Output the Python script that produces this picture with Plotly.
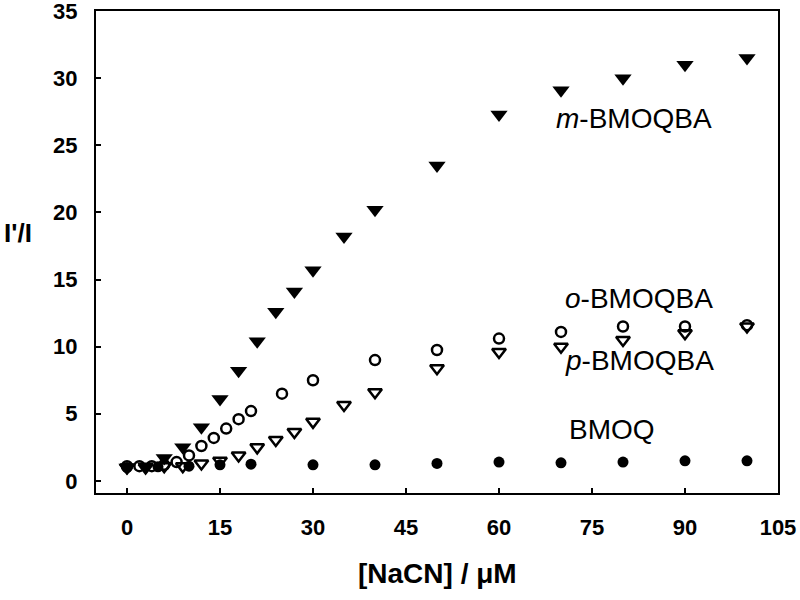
import plotly.graph_objects as go

# Data
m_x = [0, 3, 6, 9, 12, 15, 18, 21, 24, 27, 30, 35, 40, 50, 60, 70, 80, 90, 100]
m_y = [1.0, 1.1, 1.7, 2.5, 4.0, 6.1, 8.2, 10.4, 12.6, 14.1, 15.7, 18.2, 20.2, 23.5, 27.3, 29.1, 30.0, 31.0, 31.5]

o_x = [0, 2, 4, 6, 8, 10, 12, 14, 16, 18, 20, 25, 30, 40, 50, 60, 70, 80, 90, 100]
o_y = [1.1, 1.1, 1.1, 1.2, 1.4, 1.9, 2.6, 3.2, 3.9, 4.6, 5.2, 6.5, 7.5, 9.0, 9.75, 10.6, 11.1, 11.5, 11.5, 11.6]

p_x = [0, 3, 6, 9, 12, 15, 18, 21, 24, 27, 30, 35, 40, 50, 60, 70, 80, 90, 100]
p_y = [1.0, 1.0, 1.1, 1.1, 1.3, 1.5, 1.9, 2.5, 3.05, 3.65, 4.4, 5.65, 6.6, 8.4, 9.6, 10.0, 10.5, 11.0, 11.5]

b_x = [0, 5, 10, 15, 20, 30, 40, 50, 60, 70, 80, 90, 100]
b_y = [1.0, 1.05, 1.1, 1.2, 1.25, 1.2, 1.2, 1.3, 1.4, 1.35, 1.4, 1.5, 1.5]

x_ticks = [0, 15, 30, 45, 60, 75, 90, 105]
y_ticks = [0, 5, 10, 15, 20, 25, 30, 35]

FONT = "Liberation Sans, Arial, sans-serif"

fig = go.Figure()
fig.add_trace(go.Scatter(x=b_x, y=b_y, mode="markers", name="BMOQ",
                         marker=dict(symbol="circle", size=11, color="black")))
fig.add_trace(go.Scatter(x=p_x, y=p_y, mode="markers", name="p-BMOQBA",
                         marker=dict(symbol="triangle-down-open", size=12, color="black",
                                     line=dict(width=2.5, color="black"))))
fig.add_trace(go.Scatter(x=o_x, y=o_y, mode="markers", name="o-BMOQBA",
                         marker=dict(symbol="circle-open", size=10, color="black",
                                     line=dict(width=2.5, color="black"))))
fig.add_trace(go.Scatter(x=m_x, y=m_y, mode="markers", name="m-BMOQBA",
                         marker=dict(symbol="triangle-down", size=15, color="black")))

ann_font = dict(family=FONT, size=28, color="black")
fig.add_annotation(x=81.7, y=27.0, xref="x", yref="y", text="<i>m</i>-BMOQBA",
                   showarrow=False, font=ann_font)
fig.add_annotation(x=82.5, y=13.6, xref="x", yref="y", text="<i>o</i>-BMOQBA",
                   showarrow=False, font=ann_font)
fig.add_annotation(x=82.7, y=9.0, xref="x", yref="y", text="<i>p</i>-BMOQBA",
                   showarrow=False, font=ann_font)
fig.add_annotation(x=78.2, y=3.8, xref="x", yref="y", text="BMOQ",
                   showarrow=False, font=ann_font)

# axis titles
fig.add_annotation(x=-0.138, y=0.539, xref="paper", yref="paper", text="I'/I",
                   showarrow=False, xanchor="left", yanchor="middle",
                   font=dict(family=FONT, size=26, color="black", weight="bold"))
fig.add_annotation(x=0.5, y=-0.166, xref="paper", yref="paper", text="[NaCN] / μM",
                   showarrow=False, xanchor="center", yanchor="middle",
                   font=dict(family=FONT, size=28, color="black", weight="bold"))

axis_common = dict(showline=True, linewidth=2, linecolor="black", mirror=True,
                   ticks="inside", ticklen=5, tickwidth=2, tickcolor="black",
                   showgrid=False, zeroline=False, automargin=False,
                   ticklabeloverflow="allow",
                   tickfont=dict(family=FONT, size=22, color="black", weight="bold"))

fig.update_xaxes(range=[-5, 105], tickvals=x_ticks, ticklabelstandoff=14, **axis_common)
fig.update_yaxes(range=[-0.9, 35], tickvals=y_ticks, ticklabelstandoff=12, **axis_common)

fig.update_layout(width=800, height=600, showlegend=False,
                  plot_bgcolor="white", paper_bgcolor="white",
                  margin=dict(l=96, r=22, t=11, b=107, autoexpand=False),
                  font=dict(family=FONT))

# remove the default 8px page margin so the figure fills the window exactly
fig.write_html("out.html",
               config={"displayModeBar": False},
               post_script="document.body.style.margin='0';document.body.style.padding='0';")
